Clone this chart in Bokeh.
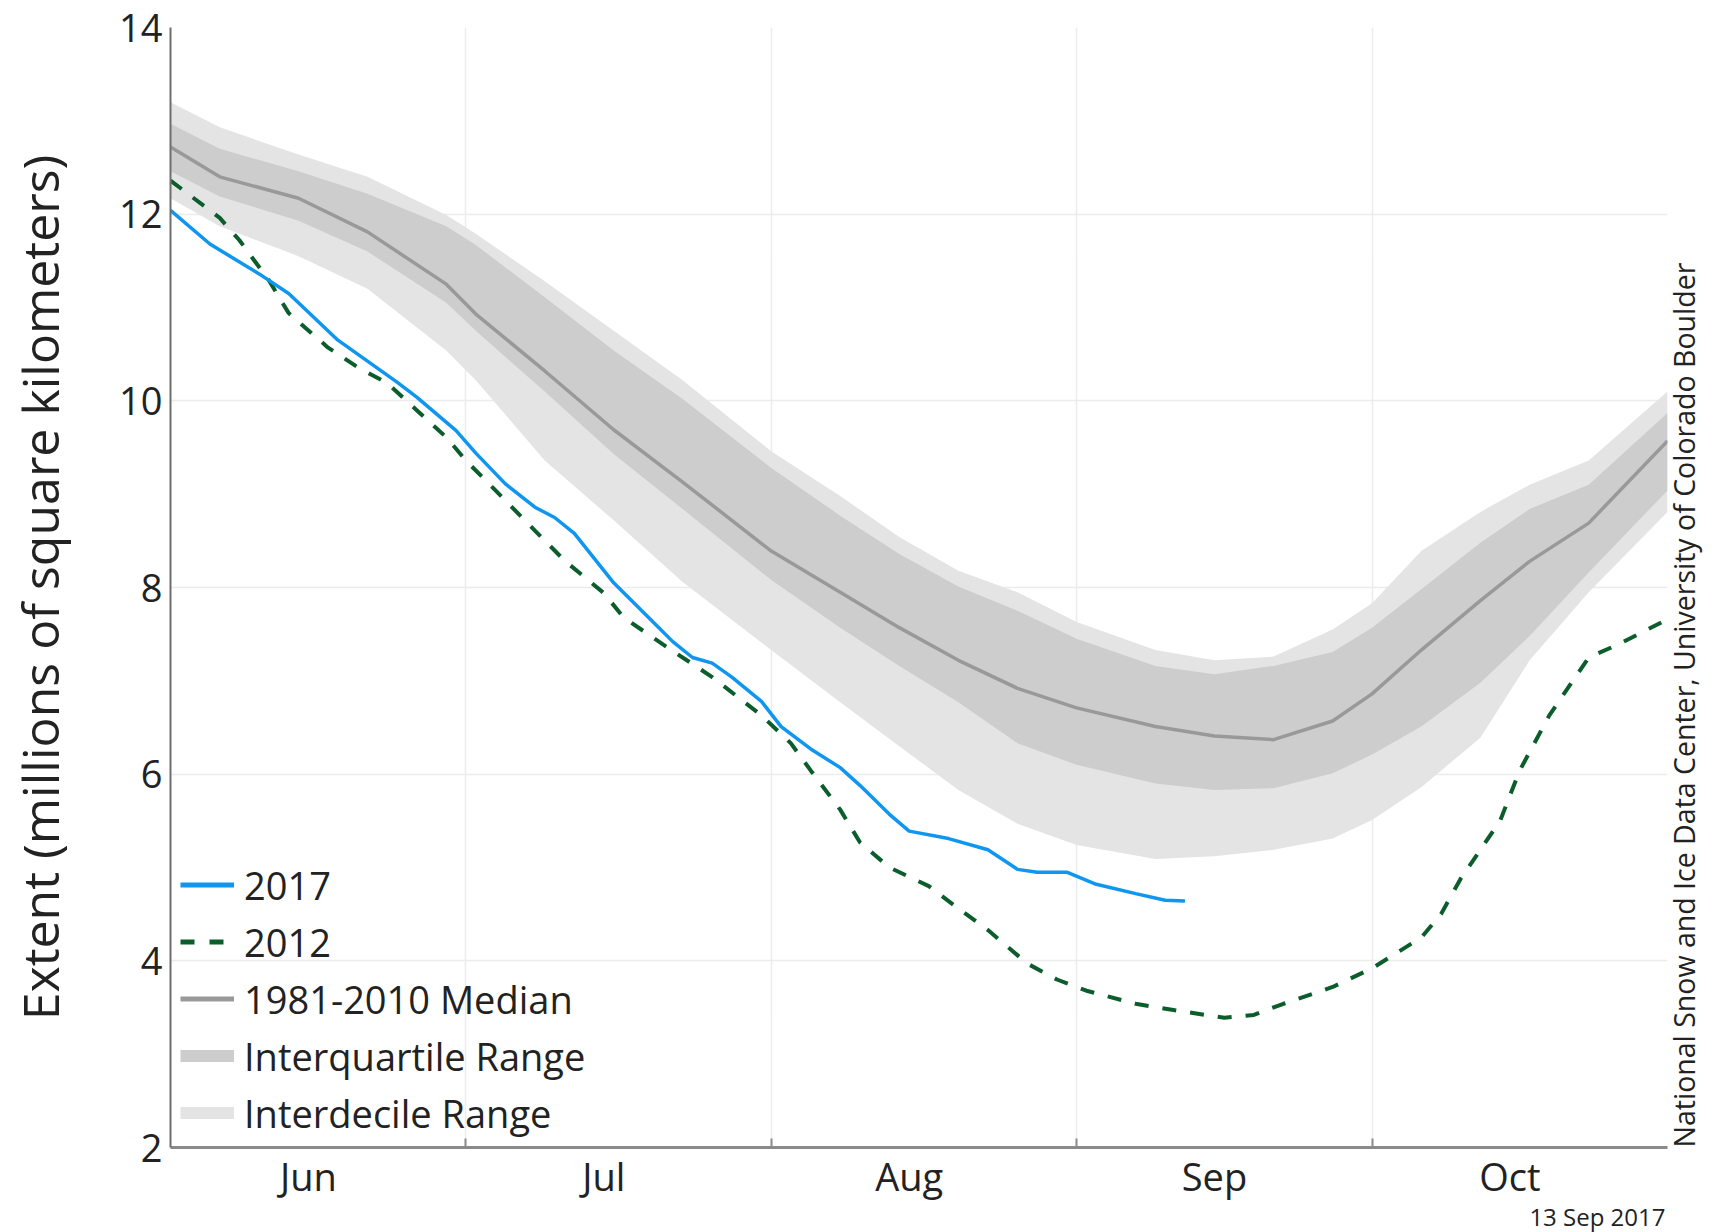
import math

from bokeh.embed import file_html
from bokeh.models import FixedTicker, Legend, LegendItem, LinearAxis, Range1d, Title
from bokeh.plotting import figure
from bokeh.resources import INLINE

FONT = "Open Sans"
INK = "#222222"

# x is the day count from 1 June (1 Jul = 30, 1 Aug = 61, 1 Sep = 92, 1 Oct = 122)
month_names = ["Jun", "Jul", "Aug", "Sep", "Oct"]
month_mid = [14, 44, 75, 106, 136]
month_bounds = [30, 61, 92, 122]
x_start, x_end = 0, 152
y_ticks = [2, 4, 6, 8, 10, 12, 14]

# 1981-2010 climatology
clim_day = [0, 5, 13, 20, 28, 31, 38, 45, 52, 61, 68, 74, 80, 86, 92,
            100, 106, 112, 118, 122, 127, 133, 138, 144, 152]
clim_median = [12.72, 12.40, 12.17, 11.81, 11.25, 10.93, 10.32, 9.69, 9.13, 8.39,
               7.95, 7.57, 7.22, 6.92, 6.71, 6.51, 6.41, 6.37, 6.57, 6.86,
               7.33, 7.86, 8.28, 8.69, 9.57]
iqr_high = [12.97, 12.70, 12.46, 12.22, 11.87, 11.67, 11.11, 10.54, 10.02, 9.28,
            8.77, 8.36, 8.01, 7.75, 7.45, 7.16, 7.07, 7.16, 7.31, 7.57,
            7.98, 8.48, 8.84, 9.10, 9.87]
iqr_low = [12.46, 12.19, 11.93, 11.60, 11.05, 10.75, 10.10, 9.43, 8.84, 8.08,
           7.57, 7.16, 6.77, 6.33, 6.10, 5.90, 5.83, 5.85, 6.01, 6.21,
           6.51, 6.98, 7.48, 8.16, 9.04]
idr_high = [13.20, 12.93, 12.64, 12.40, 11.99, 11.79, 11.28, 10.75, 10.22, 9.46,
            8.98, 8.54, 8.18, 7.95, 7.63, 7.33, 7.22, 7.26, 7.55, 7.83,
            8.39, 8.81, 9.10, 9.36, 10.10]
idr_low = [12.17, 11.87, 11.55, 11.20, 10.54, 10.22, 9.36, 8.72, 8.06, 7.33,
           6.77, 6.30, 5.83, 5.47, 5.24, 5.09, 5.12, 5.19, 5.31, 5.51,
           5.86, 6.39, 7.22, 7.95, 8.81]

# 2017 daily extent (through 12 Sep)
day_2017 = [0, 4, 9, 12, 17, 23, 25, 29, 31, 34, 37, 39, 41, 45, 49, 51, 53, 55,
            57, 60, 62, 65, 68, 70, 73, 75, 79, 83, 86, 88, 91, 94, 98, 101, 103]
ext_2017 = [12.04, 11.68, 11.36, 11.15, 10.65, 10.20, 10.04, 9.68, 9.44, 9.11,
            8.86, 8.75, 8.58, 8.05, 7.63, 7.42, 7.25, 7.19, 7.04, 6.78, 6.51,
            6.27, 6.07, 5.88, 5.57, 5.39, 5.31, 5.19, 4.98, 4.95, 4.95, 4.82,
            4.72, 4.65, 4.64]

# 2012 daily extent
day_2012 = [0, 5, 7, 10, 12, 16, 19, 22, 25, 28, 30, 33, 37, 40, 44, 46, 50, 55,
            60, 63, 65, 68, 70, 73, 77, 80, 83, 87, 90, 93, 98, 102, 107, 110,
            113, 118, 122, 127, 129, 131, 135, 137, 140, 144, 147, 152]
ext_2012 = [12.36, 11.96, 11.72, 11.29, 10.94, 10.57, 10.36, 10.19, 9.90, 9.61,
            9.36, 9.04, 8.61, 8.29, 7.94, 7.68, 7.39, 7.04, 6.63, 6.33, 6.04,
            5.62, 5.27, 5.00, 4.80, 4.56, 4.33, 3.97, 3.80, 3.68, 3.54, 3.47,
            3.39, 3.42, 3.54, 3.72, 3.92, 4.25, 4.50, 4.88, 5.50, 6.04, 6.63,
            7.25, 7.39, 7.66]

C2017 = "#0e96f0"
C2012 = "#0b5d2b"
CMED = "#999999"
CIQR = "#cdcdcd"
CIDR = "#e4e4e4"

p = figure(width=1725, height=1232, output_backend="svg", toolbar_location=None,
           x_range=Range1d(x_start, x_end), y_range=Range1d(2, 14),
           min_border_left=170, min_border_right=58, min_border_top=27,
           min_border_bottom=85)
p.title.visible = False
p.outline_line_color = None
p.background_fill_color = "white"
p.border_fill_color = "white"

# climatology bands and median
p.varea(x=clim_day, y1=idr_low, y2=idr_high, fill_color=CIDR)
p.varea(x=clim_day, y1=iqr_low, y2=iqr_high, fill_color=CIQR)
p.line(clim_day, clim_median, line_color=CMED, line_width=3.5)

# individual years
p.line(day_2012, ext_2012, line_color=C2012, line_width=4, line_dash="14 14")
p.line(day_2017, ext_2017, line_color=C2017, line_width=3.5)

# legend swatches (proxy renderers holding no visible points)
nan = [float("nan")]
leg_2017 = p.line(x=nan, y=nan, line_color=C2017, line_width=5)
leg_2012 = p.line(x=nan, y=nan, line_color=C2012, line_width=5, line_dash="14 15")
leg_med = p.line(x=nan, y=nan, line_color=CMED, line_width=5)
leg_iqr = p.line(x=nan, y=nan, line_color=CIQR, line_width=12)
leg_idr = p.line(x=nan, y=nan, line_color=CIDR, line_width=12)

legend = Legend(items=[
    LegendItem(label="2017", renderers=[leg_2017]),
    LegendItem(label="2012", renderers=[leg_2012]),
    LegendItem(label="1981-2010 Median", renderers=[leg_med]),
    LegendItem(label="Interquartile Range", renderers=[leg_iqr]),
    LegendItem(label="Interdecile Range", renderers=[leg_idr]),
], location=(10, 6), padding=0, margin=0, spacing=0,
    glyph_width=54, glyph_height=57, label_height=57, label_standoff=10,
    label_text_font=FONT, label_text_font_size="38px", label_text_color=INK,
    background_fill_alpha=0, border_line_color=None)
p.add_layout(legend, "center")

# grid
p.xgrid.ticker = FixedTicker(ticks=month_bounds)
p.ygrid.ticker = FixedTicker(ticks=y_ticks)
p.xgrid.grid_line_color = "#ececec"
p.ygrid.grid_line_color = "#ececec"
p.xgrid.grid_line_width = 1.5
p.ygrid.grid_line_width = 1.5

# x axis: month names mid-month, tick marks on month boundaries
xa = p.xaxis[0]
xa.ticker = FixedTicker(ticks=month_mid, minor_ticks=month_bounds)
xa.major_label_overrides = {d: m for d, m in zip(month_mid, month_names)}
xa.major_tick_line_color = None
xa.major_tick_in = 0
xa.major_tick_out = 0
xa.minor_tick_in = 9
xa.minor_tick_out = 0
xa.minor_tick_line_color = "#8a8a8a"
xa.minor_tick_line_width = 2
xa.axis_line_color = "#8a8a8a"
xa.axis_line_width = 3
xa.major_label_standoff = 2
xa.major_label_text_font = FONT
xa.major_label_text_font_size = "38px"
xa.major_label_text_color = INK

ya = p.yaxis[0]
ya.ticker = FixedTicker(ticks=y_ticks)
ya.major_tick_line_color = None
ya.minor_tick_line_color = None
ya.major_tick_in = 0
ya.major_tick_out = 0
ya.axis_line_color = "#6e6e6e"
ya.axis_line_width = 2
ya.major_label_standoff = 8
ya.major_label_text_font = FONT
ya.major_label_text_font_size = "38px"
ya.major_label_text_color = INK
ya.axis_label = "Extent (millions of square kilometers)"
ya.axis_label_standoff = 42
ya.axis_label_text_font = FONT
ya.axis_label_text_font_size = "50px"
ya.axis_label_text_font_style = "normal"
ya.axis_label_text_color = INK

# source credit along the right edge, reading upwards from the bottom
credit = LinearAxis(ticker=FixedTicker(ticks=[]), axis_line_color=None,
                    major_tick_line_color=None, minor_tick_line_color=None,
                    major_label_text_font_size="0px",
                    axis_label="National Snow and Ice Data Center, University of Colorado Boulder",
                    axis_label_standoff=16, axis_label_text_font=FONT,
                    axis_label_text_font_size="28.5px", axis_label_text_font_style="normal",
                    axis_label_text_color=INK)
credit.axis_label_orientation = math.pi / 2
credit.axis_label_align = "start"
p.add_layout(credit, "right")

# date stamp under the month labels
p.add_layout(Title(text="13 Sep 2017", align="right", vertical_align="top",
                   offset=2, standoff=-10,
                   text_font=FONT, text_font_size="24px", text_font_style="normal",
                   text_color=INK), "below")

open("out.html", "w").write(file_html(p, INLINE))
